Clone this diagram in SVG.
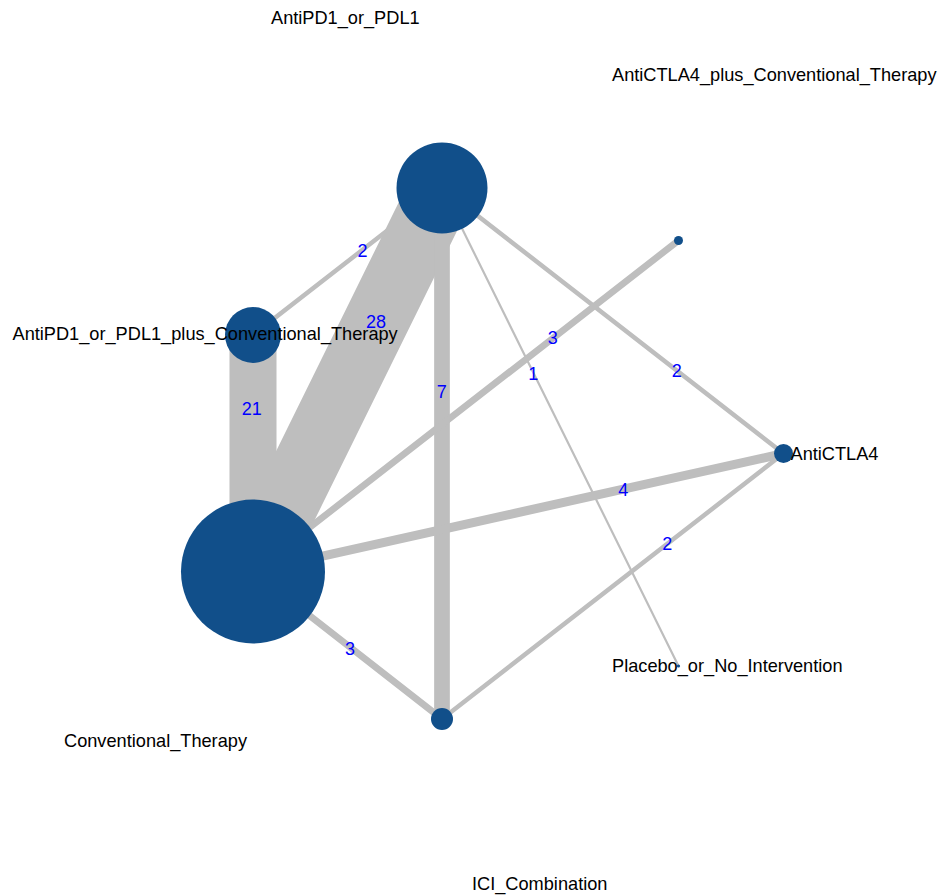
<svg xmlns="http://www.w3.org/2000/svg" width="940" height="895" viewBox="0 0 940 895">
<style>
.e{stroke:#BEBEBE;stroke-linecap:round;fill:none}
.n{fill:#114F8A}
.t{font-family:"Liberation Sans",Arial,sans-serif;font-size:18.2px;fill:#000}
.l{font-family:"Liberation Sans",Arial,sans-serif;font-size:18px;fill:#0000FF;text-anchor:middle}
</style>
<rect width="940" height="895" fill="#fff"/>
<g id="connectors">
<line class="e" x1="442" y1="188" x2="253" y2="335" stroke-width="4.5"/>
<line class="e" x1="442" y1="188" x2="253" y2="571.5" stroke-width="65"/>
<line class="e" x1="442" y1="188" x2="442" y2="719" stroke-width="15.7"/>
<line class="e" x1="442" y1="188" x2="678.5" y2="666" stroke-width="2.2"/>
<line class="e" x1="442" y1="188" x2="783.5" y2="453.5" stroke-width="4.5"/>
<line class="e" x1="253" y1="335" x2="253" y2="571.5" stroke-width="47"/>
<line class="e" x1="253" y1="571.5" x2="678.5" y2="240.5" stroke-width="6.7"/>
<line class="e" x1="253" y1="571.5" x2="783.5" y2="453.5" stroke-width="9"/>
<line class="e" x1="253" y1="571.5" x2="442" y2="719" stroke-width="6.7"/>
<line class="e" x1="442" y1="719" x2="783.5" y2="453.5" stroke-width="4.5"/>
</g>
<g id="node-AntiPD1_or_PDL1"><circle class="n" cx="442" cy="188" r="45.5"/></g>
<g id="node-AntiPD1_or_PDL1_plus_Conventional_Therapy"><circle class="n" cx="253" cy="335" r="28"/></g>
<g id="node-Conventional_Therapy"><circle class="n" cx="253" cy="571.5" r="72"/></g>
<g id="node-ICI_Combination"><circle class="n" cx="442" cy="719" r="11"/></g>
<g id="node-Placebo_or_No_Intervention"><circle class="n" cx="678.5" cy="666" r="1.6"/></g>
<g id="node-AntiCTLA4"><circle class="n" cx="783.5" cy="453.5" r="9.5"/></g>
<g id="node-AntiCTLA4_plus_Conventional_Therapy"><circle class="n" cx="678.5" cy="240.5" r="4.5"/></g>
<g id="node-labels">
<text class="t" x="271" y="24">AntiPD1_or_PDL1</text>
<text class="t" x="612" y="81">AntiCTLA4_plus_Conventional_Therapy</text>
<text class="t" x="12.5" y="340">AntiPD1_or_PDL1_plus_Conventional_Therapy</text>
<text class="t" x="790.5" y="460">AntiCTLA4</text>
<text class="t" x="612" y="672">Placebo_or_No_Intervention</text>
<text class="t" x="64" y="746.5">Conventional_Therapy</text>
<text class="t" x="472" y="890">ICI_Combination</text>
</g>
<g id="edge-labels">
<text class="l" x="362.5" y="257">2</text>
<text class="l" x="376" y="328">28</text>
<text class="l" x="441.7" y="398">7</text>
<text class="l" x="533.3" y="380.3">1</text>
<text class="l" x="676.7" y="377">2</text>
<text class="l" x="251.7" y="415.3">21</text>
<text class="l" x="552.7" y="344">3</text>
<text class="l" x="623.3" y="495.6">4</text>
<text class="l" x="350" y="654.6">3</text>
<text class="l" x="667.3" y="550.3">2</text>
</g>
</svg>
